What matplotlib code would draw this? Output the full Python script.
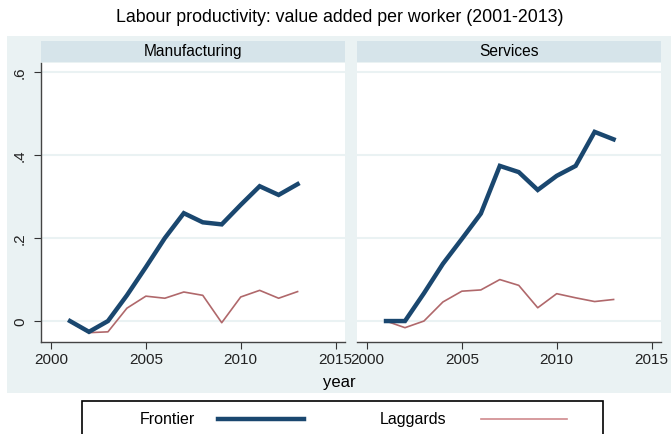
import matplotlib
matplotlib.use("Agg")
import matplotlib.pyplot as plt
from matplotlib.patches import Rectangle
from matplotlib.lines import Line2D

plt.rcParams['font.family'] = ['Liberation Sans', 'DejaVu Sans']

years = list(range(2001, 2014))
manuf_frontier = [0.0, -0.026, 0.0, 0.062, 0.13, 0.20, 0.26, 0.238, 0.233, 0.28, 0.325, 0.304, 0.33]
manuf_laggards = [-0.002, -0.028, -0.026, 0.031, 0.06, 0.055, 0.07, 0.062, -0.004, 0.058, 0.074, 0.055, 0.071]
serv_frontier = [0.0, 0.0, 0.067, 0.138, 0.198, 0.259, 0.374, 0.359, 0.316, 0.35, 0.374, 0.456, 0.438]
serv_laggards = [0.0, -0.016, 0.0, 0.046, 0.072, 0.075, 0.1, 0.086, 0.032, 0.066, 0.056, 0.047, 0.052]

panels = ['Manufacturing', 'Services']
yticks = [0, 0.2, 0.4, 0.6]
ytick_labels = ['0', '.2', '.4', '.6']
xticks = [2000, 2005, 2010, 2015]

navy = '#1a476f'
maroon = '#b0686b'
bg = '#eaf2f3'
strip = '#d6e4ea'

W, H = 671, 435
fig = plt.figure(figsize=(W / 100, H / 100), dpi=100)
fig.patch.set_facecolor('white')


def fx(px):
    return px / W


def fy(py):
    return 1 - py / H


# graph region background
fig.add_artist(Rectangle((fx(7), fy(394)), fx(671 - 7), (394 - 37) / H,
                         transform=fig.transFigure, facecolor=bg, edgecolor='none', zorder=0))

fig.text(fx(340), fy(17), 'Labour productivity: value added per worker (2001-2013)',
         ha='center', va='center', fontsize=12.8)

lefts = [41, 357]
data = [(manuf_frontier, manuf_laggards), (serv_frontier, serv_laggards)]
for i, (left, name, (fr, lg)) in enumerate(zip(lefts, panels, data)):
    ax = fig.add_axes([fx(left), fy(343), fx(304), (343 - 64) / H])
    ax.set_facecolor('white')
    ax.plot(years, fr, color=navy, lw=3.2, solid_joinstyle='miter', zorder=3)
    ax.plot(years, lg, color=maroon, lw=1.2, zorder=2)
    ax.set_xlim(1999.47, 2015.5)
    ax.set_ylim(-0.0505, 0.622)
    ax.set_yticks(yticks)
    ax.set_xticks(xticks)
    for y in yticks:
        ax.axhline(y, color=bg, lw=1.5, zorder=1)
    for s in ['top', 'right']:
        ax.spines[s].set_visible(False)
    ax.spines['bottom'].set_color('#444444')
    ax.spines['bottom'].set_linewidth(1.0)
    ax.tick_params(axis='x', direction='out', length=5, width=0.8, color='#333333',
                   labelsize=11, labelcolor='#222222', pad=2)
    if i == 0:
        ax.spines['left'].set_color('#444444')
        ax.spines['left'].set_linewidth(1.0)
        ax.set_yticklabels(ytick_labels, rotation=90, va='center')
        ax.tick_params(axis='y', direction='out', length=5, width=0.8, color='#333333',
                       labelsize=11, labelcolor='#222222', pad=5)
    else:
        ax.spines['left'].set_visible(False)
        ax.tick_params(axis='y', left=False, labelleft=False)
    # panel header strip
    fig.add_artist(Rectangle((fx(left), fy(63)), fx(304), 21 / H,
                             transform=fig.transFigure, facecolor=strip, edgecolor='none'))
    fig.text(fx(left + 152), fy(52), name, ha='center', va='center', fontsize=11.2)

fig.text(fx(339), fy(383), 'year', ha='center', va='center', fontsize=12)

# legend box
fig.add_artist(Rectangle((fx(82), fy(445)), fx(603 - 82), (445 - 402) / H,
                         transform=fig.transFigure, facecolor='white', edgecolor='black', lw=1.2))
fig.text(fx(140), fy(420), 'Frontier', ha='left', va='center', fontsize=11.5)
fig.add_artist(Line2D([fx(218), fx(304)], [fy(420), fy(420)], transform=fig.transFigure,
                      color=navy, lw=3.2))
fig.text(fx(380), fy(420), 'Laggards', ha='left', va='center', fontsize=11.5)
fig.add_artist(Line2D([fx(481), fx(567)], [fy(420), fy(420)], transform=fig.transFigure,
                      color='#d08a8d', lw=1.2))

plt.savefig('out.png', dpi=100)
plt.close()
